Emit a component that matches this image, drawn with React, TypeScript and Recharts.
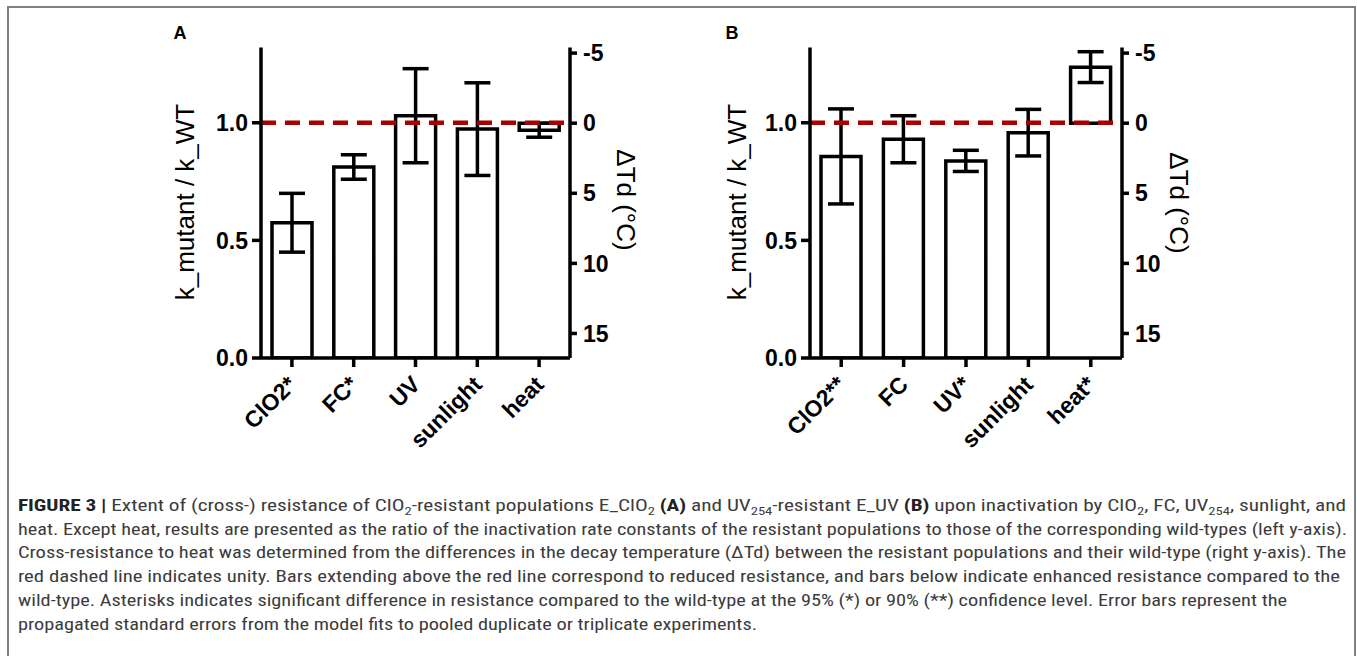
import React from 'react';
import { BarChart, Bar, XAxis, YAxis, ErrorBar, ReferenceLine } from 'recharts';

// ---------- data ----------
const categoriesA = ['ClO2*', 'FC*', 'UV', 'sunlight', 'heat'];
const ratioA = [0.575, 0.812, 1.03, 0.973, null];
const ratioErrA = [0.125, 0.052, 0.2, 0.197, null];
const heatA = [null, null, null, null, 0.5];
const heatErrA = [null, null, null, null, 0.5];

const categoriesB = ['ClO2**', 'FC', 'UV*', 'sunlight', 'heat*'];
const ratioB = [0.857, 0.93, 0.838, 0.958, null];
const ratioErrB = [0.202, 0.1, 0.045, 0.099, null];
const heatB = [null, null, null, null, -4.0];
const heatErrB = [null, null, null, null, 1.1];

const leftTicks = [0, 0.5, 1.0];
const rightTicks = [-5, 0, 5, 10, 15];
const leftDomain = [0, 1.32];
const rightDomain = [-5.4, 16.75];
const unity = 1;

const FONT = '"Liberation Sans", Arial, Helvetica, sans-serif';
const CAPFONT = '"Liberation Sans Narrow", "Roboto Condensed", "DejaVu Sans Condensed", Roboto, "Liberation Sans", sans-serif';

const XTick = (props: any) => {
  const { x, y, payload } = props;
  return (
    <g transform={`translate(${x + 6},${y + 17})`}>
      <text
        transform="rotate(-45)"
        textAnchor="end"
        fontFamily={FONT}
        fontWeight="bold"
        fontSize={23}
        fill="#000"
      >
        {payload.value}
      </text>
    </g>
  );
};

const axisStyle = { stroke: '#000', strokeWidth: 3.5 };
const tickStyle = { fill: '#000', fontSize: 23, fontWeight: 'bold', fontFamily: FONT };

function Panel(props: any) {
  const { left, width, categories, ratio, ratioErr, heat, heatErr } = props;
  const data = categories.map((c: string, i: number) => ({
    cat: c,
    ratio: ratio[i],
    ratioErr: ratioErr[i],
    heat: heat[i],
    heatErr: heatErr[i],
  }));
  return (
    <div style={{ position: 'absolute', left, top: 0 }}>
      <BarChart
        width={width}
        height={470}
        data={data}
        margin={{ top: 47.5, right: 10, bottom: 12, left: 0 }}
        barSize={40}
        barGap={-40}
        barCategoryGap={0}
      >
        <XAxis
          dataKey="cat"
          height={100}
          axisLine={axisStyle}
          tickLine={axisStyle}
          tickSize={9}
          tickMargin={2}
          interval={0}
          tick={<XTick />}
        />
        <YAxis
          yAxisId="left"
          width={61}
          domain={leftDomain}
          ticks={leftTicks}
          allowDataOverflow
          tickFormatter={(v: number) => v.toFixed(1)}
          axisLine={axisStyle}
          tickLine={axisStyle}
          tickSize={9}
          tickMargin={4}
          tick={tickStyle}
        />
        <YAxis
          yAxisId="right"
          orientation="right"
          width={100}
          domain={rightDomain}
          ticks={rightTicks}
          reversed
          allowDataOverflow
          axisLine={axisStyle}
          tickLine={axisStyle}
          tickSize={7}
          tickMargin={6}
          tick={tickStyle}
        />
        <Bar
          yAxisId="left"
          dataKey="ratio"
          fill="#fff"
          stroke="#000"
          strokeWidth={3.5}
          isAnimationActive={false}
        >
          <ErrorBar dataKey="ratioErr" width={13} stroke="#000" strokeWidth={3.5} isAnimationActive={false} />
        </Bar>
        <Bar
          yAxisId="right"
          dataKey="heat"
          fill="#fff"
          stroke="#000"
          strokeWidth={3.5}
          isAnimationActive={false}
        >
          <ErrorBar dataKey="heatErr" width={13} stroke="#000" strokeWidth={3.5} isAnimationActive={false} />
        </Bar>
        <ReferenceLine
          yAxisId="left"
          y={unity}
          stroke="#A80000"
          strokeWidth={4.5}
          strokeDasharray="15 9"
        />
      </BarChart>
    </div>
  );
}

export default function App() {
  const capX = 18;
  const capColor = '#3c3c3c';
  const boldColor = '#222';
  return (
    <div
      style={{
        position: 'absolute',
        left: 0,
        top: 0,
        width: 1357,
        height: 656,
        background: '#fff',
        overflow: 'hidden',
      }}
    >
      <div
        style={{
          position: 'absolute',
          left: 7,
          top: 6,
          width: 1345,
          height: 720,
          border: '2px solid #808080',
          boxSizing: 'content-box',
        }}
      />
      <svg
        width={1357}
        height={656}
        style={{ position: 'absolute', left: 0, top: 0 }}
      >
        <text x={180} y={39} textAnchor="middle" fontFamily={FONT} fontWeight="bold" fontSize={18} fill="#000">A</text>
        <text x={732} y={39} textAnchor="middle" fontFamily={FONT} fontWeight="bold" fontSize={18} fill="#000">B</text>

        <text transform="translate(194,202) rotate(-90)" textAnchor="middle" fontFamily={FONT} fontSize={26} fill="#000">k_mutant / k_WT</text>
        <text transform="translate(617,200) rotate(90)" textAnchor="middle" fontFamily={FONT} fontSize={26} fill="#000">ΔTd (°C)</text>
        <text transform="translate(746,202) rotate(-90)" textAnchor="middle" fontFamily={FONT} fontSize={26} fill="#000">k_mutant / k_WT</text>
        <text transform="translate(1170,203) rotate(90)" textAnchor="middle" fontFamily={FONT} fontSize={26} fill="#000">ΔTd (°C)</text>

        <g fontFamily={CAPFONT} fontSize={16} fill={capColor}>
          <text x={capX} y={511} textLength={1328} lengthAdjust="spacingAndGlyphs">
            <tspan fontWeight="bold" fill={boldColor}>FIGURE 3 |</tspan>
            <tspan> Extent of (cross-) resistance of ClO</tspan>
            <tspan dy={4} fontSize={11}>2</tspan>
            <tspan dy={-4}>-resistant populations E_ClO</tspan>
            <tspan dy={4} fontSize={11}>2</tspan>
            <tspan dy={-4} fontWeight="bold" fill={boldColor}> (A)</tspan>
            <tspan> and UV</tspan>
            <tspan dy={4} fontSize={11}>254</tspan>
            <tspan dy={-4}>-resistant E_UV </tspan>
            <tspan fontWeight="bold" fill={boldColor}>(B)</tspan>
            <tspan> upon inactivation by ClO</tspan>
            <tspan dy={4} fontSize={11}>2</tspan>
            <tspan dy={-4}>, FC, UV</tspan>
            <tspan dy={4} fontSize={11}>254</tspan>
            <tspan dy={-4}>, sunlight, and</tspan>
          </text>
          <text x={capX} y={535} textLength={1329} lengthAdjust="spacingAndGlyphs">
            heat. Except heat, results are presented as the ratio of the inactivation rate constants of the resistant populations to those of the corresponding wild-types (left y-axis).
          </text>
          <text x={capX} y={558} textLength={1328} lengthAdjust="spacingAndGlyphs">
            Cross-resistance to heat was determined from the differences in the decay temperature (ΔTd) between the resistant populations and their wild-type (right y-axis). The
          </text>
          <text x={capX} y={582} textLength={1322} lengthAdjust="spacingAndGlyphs">
            red dashed line indicates unity. Bars extending above the red line correspond to reduced resistance, and bars below indicate enhanced resistance compared to the
          </text>
          <text x={capX} y={606} textLength={1269} lengthAdjust="spacingAndGlyphs">
            wild-type. Asterisks indicates significant difference in resistance compared to the wild-type at the 95% (*) or 90% (**) confidence level. Error bars represent the
          </text>
          <text x={capX} y={630} textLength={739} lengthAdjust="spacingAndGlyphs">
            propagated standard errors from the model fits to pooled duplicate or triplicate experiments.
          </text>
        </g>
      </svg>

      <Panel
        left={200}
        width={480}
        categories={categoriesA}
        ratio={ratioA}
        ratioErr={ratioErrA}
        heat={heatA}
        heatErr={heatErrA}
      />
      <Panel
        left={749}
        width={483}
        categories={categoriesB}
        ratio={ratioB}
        ratioErr={ratioErrB}
        heat={heatB}
        heatErr={heatErrB}
      />
    </div>
  );
}
